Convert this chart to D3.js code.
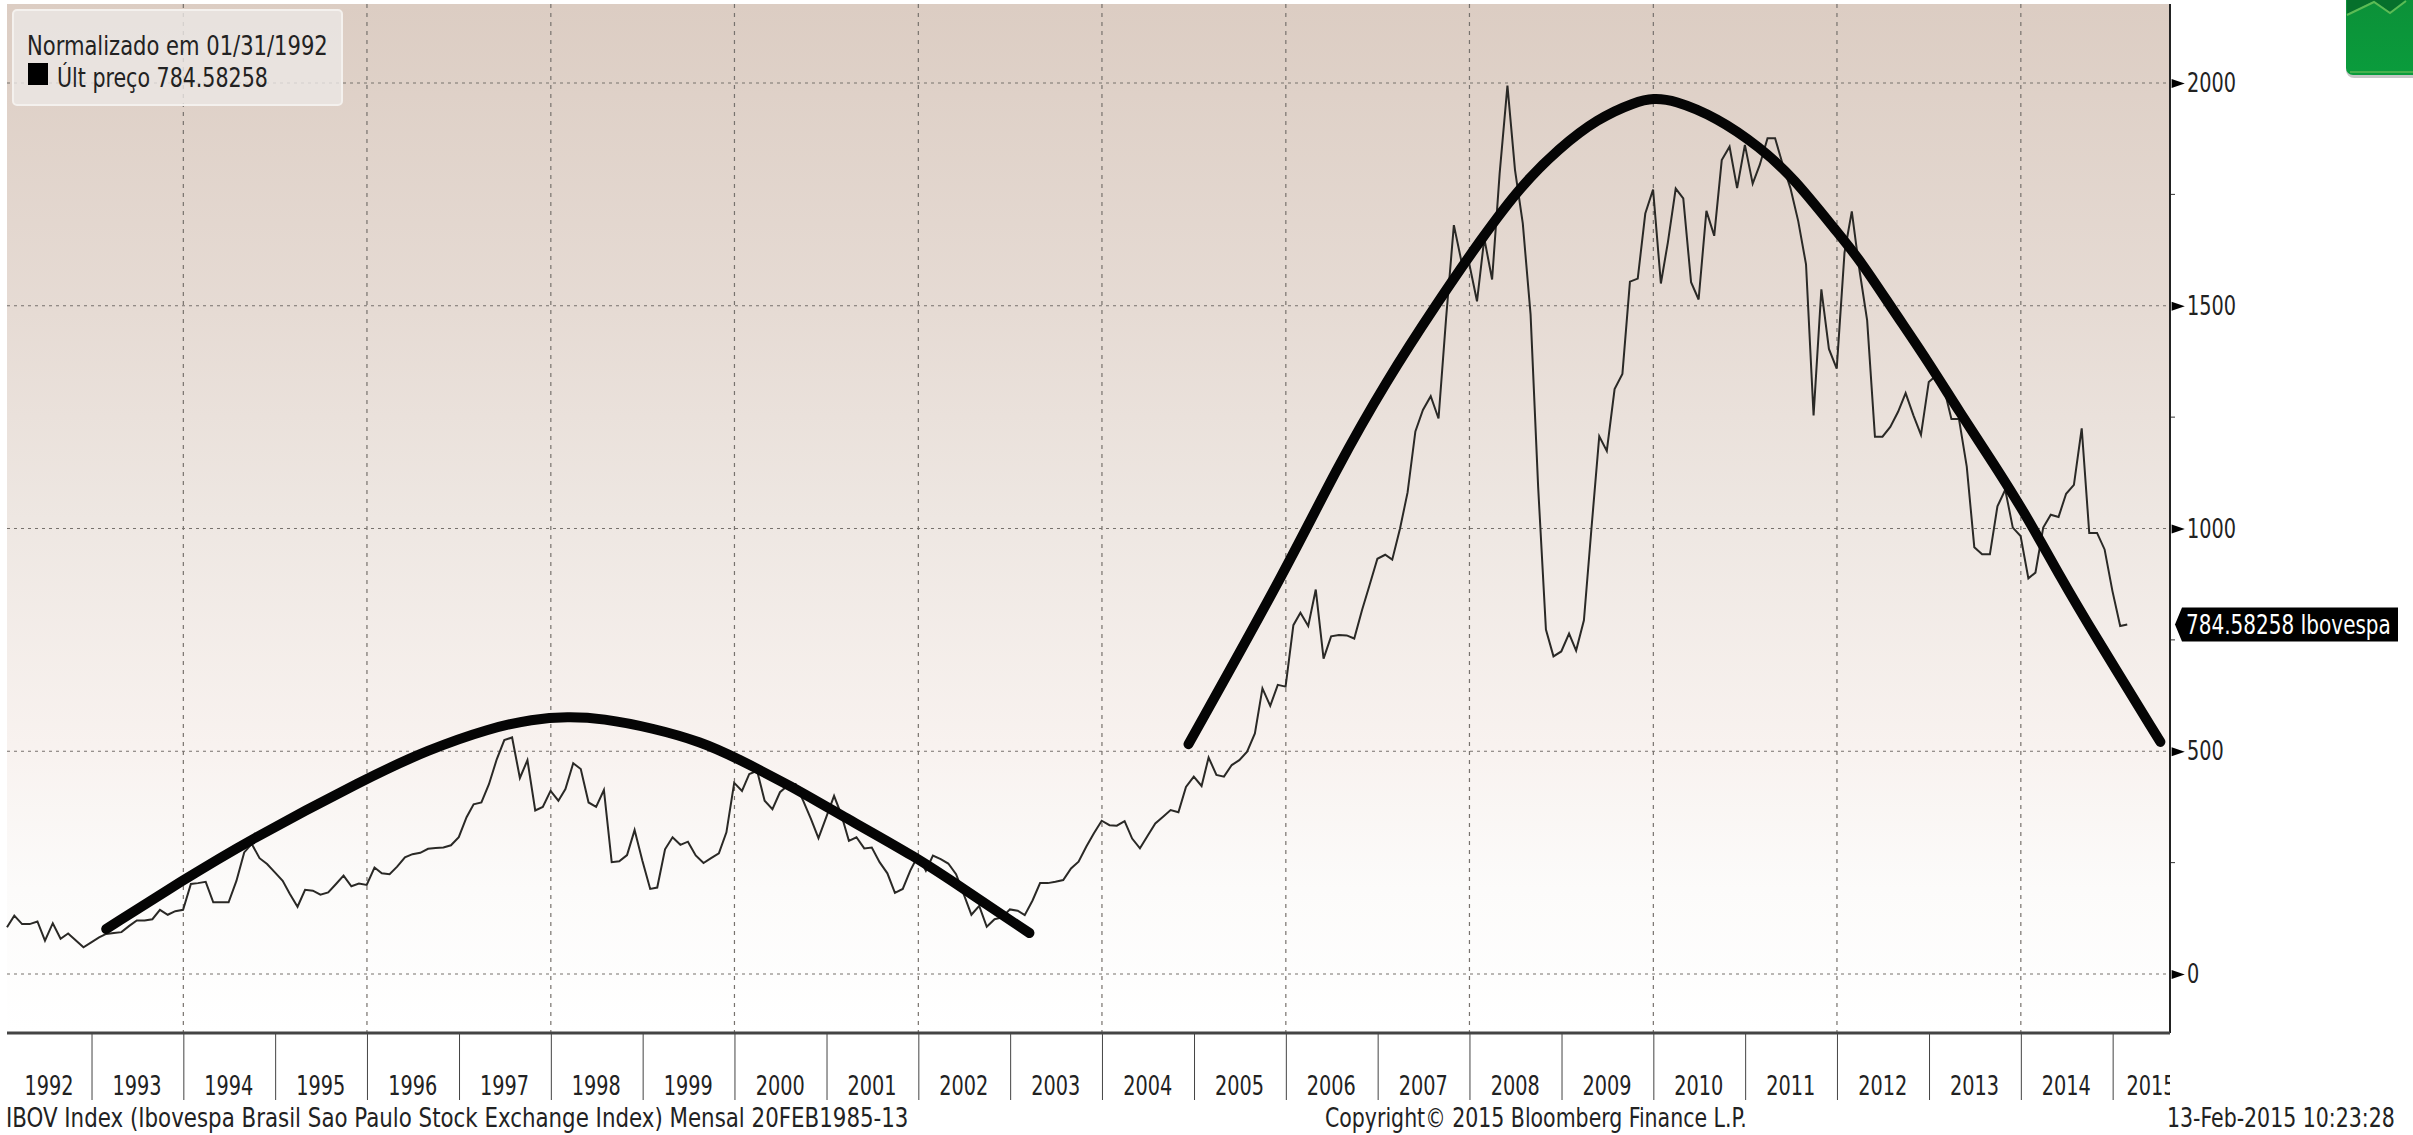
<!DOCTYPE html>
<html>
<head>
<meta charset="utf-8">
<script src="https://cdnjs.cloudflare.com/ajax/libs/d3/7.8.5/d3.min.js"></script>
<style>
html, body { margin: 0; padding: 0; background: #fff; overflow: hidden; }
svg { display: block; }
text { font-family: "Liberation Sans Narrow", "DejaVu Sans Condensed", sans-serif; fill: #222; }
</style>
</head>
<body>
<div id="chart"></div>
<script>
// monthly closes, one row per year, Jan 1992 onwards
var values1992 = [105,131,112,112,118,75,114,79,91,75,60,71];
var values1993 = [82,90,92,94,108,120,120,123,144,133,141,144];
var values1994 = [202,204,207,161,161,161,209,273,292,260,247,228];
var values1995 = [209,180,151,189,187,178,183,202,221,197,203,200];
var values1996 = [239,226,224,241,262,269,272,281,283,284,289,307];
var values1997 = [352,381,385,426,482,525,531,440,480,367,375,411];
var values1998 = [389,415,473,460,385,375,413,251,253,267,323,254];
var values1999 = [191,194,280,307,290,297,266,249,260,271,318,429];
var values2000 = [411,449,456,389,370,408,423,426,389,348,305,352];
var values2001 = [400,359,299,307,282,284,251,226,182,191,232,266];
var values2002 = [232,266,258,248,224,180,133,153,106,123,127,145];
var values2003 = [142,132,165,204,204,207,211,237,252,286,316,344];
var values2004 = [334,333,343,304,282,310,338,353,368,363,420,443];
var values2005 = [422,486,447,443,469,480,499,540,641,602,649,645];
var values2006 = [783,811,781,863,708,758,761,760,753,817,873,932];
var values2007 = [941,930,1000,1081,1218,1266,1297,1247,1471,1681,1600,1595];
var values2008 = [1510,1651,1559,1797,1994,1805,1685,1480,1094,773,713,724];
var values2009 = [764,726,794,1000,1207,1174,1313,1347,1554,1561,1707,1761];
var values2010 = [1550,1643,1763,1741,1553,1514,1713,1657,1827,1857,1764,1861];
var values2011 = [1774,1816,1876,1876,1816,1764,1690,1593,1254,1537,1403,1359];
var values2012 = [1619,1712,1578,1467,1206,1206,1228,1262,1304,1254,1210,1329];
var values2013 = [1344,1318,1246,1246,1139,958,942,942,1050,1087,1002,983];
var values2014 = [888,901,1002,1031,1026,1078,1098,1225,990,990,953,860];
var values2015 = [781,784.58258];

// the two hand drawn arcs
var arcOneYears = [1993.16,1994.00,1994.68,1996.00,1996.66,1997.34,1997.80,1998.18,1998.56,1999.11,1999.64,2000.02,2000.63,2001.09,2002.00,2002.54,2003.21];
var arcOneValues = [101,211,296,440,503,552,572,578,574,552,521,485,420,364,260,184,92];
var arcTwoYears = [2004.94,2006.00,2006.55,2007.10,2007.64,2008.14,2008.56,2008.97,2009.39,2009.81,2010.00,2010.22,2010.69,2011.16,2011.52,2012.01,2012.25,2012.61,2012.98,2013.34,2013.70,2014.07,2014.43,2014.79,2015.52];
var arcTwoValues = [516,907,1134,1333,1504,1654,1769,1853,1920,1958,1966,1962,1923,1856,1789,1663,1603,1490,1378,1259,1147,1026,891,765,521];

var yearLabels = d3.range(1992, 2016);
var gridYears = d3.range(1994, 2016, 2);
var majorTicks = [0, 500, 1000, 1500, 2000];
var minorTicks = [250, 750, 1250, 1750];

var legendTitle = "Normalizado em 01/31/1992";
var legendEntry = "Últ preço 784.58258";
var lastLabel = "784.58258 Ibovespa";
var footerLeft = "IBOV Index (Ibovespa Brasil Sao Paulo Stock Exchange Index)  Mensal 20FEB1985-13";
var footerMid = "Copyright© 2015 Bloomberg Finance L.P.";
var footerRight = "13-Feb-2015 10:23:28";

var allValues = [].concat(values1992, values1993, values1994, values1995, values1996, values1997, values1998,
  values1999, values2000, values2001, values2002, values2003, values2004, values2005, values2006, values2007,
  values2008, values2009, values2010, values2011, values2012, values2013, values2014, values2015);

var series = allValues.map(function(v, i) {
  return {date: new Date(1992, i + 1, 0), value: v};
});

function yearToDate(y) {
  var whole = Math.floor(y);
  var start = new Date(whole, 0, 1);
  var end = new Date(whole + 1, 0, 1);
  return new Date(+start + (y - whole) * (end - start));
}

function arcData(years, vals) {
  return years.map(function(y, i) { return {date: yearToDate(y), value: vals[i]}; });
}

// squeeze a text sideways to a given width, the font is wider than the original
function fitText(sel, px, py, width) {
  var natural = sel.node().getComputedTextLength();
  sel.attr("transform", "translate(" + px + "," + py + ") scale(" + (width / natural) + ",1)");
}

var plotLeft = 7, plotRight = 2170, plotTop = 4, plotBottom = 1033;

var svg = d3.select("#chart").append("svg")
  .attr("width", 2413)
  .attr("height", 1135);

var defs = svg.append("defs");

var bgGradient = defs.append("linearGradient")
  .attr("id", "plot-bg")
  .attr("x1", "0%").attr("y1", "0%")
  .attr("x2", "0%").attr("y2", "100%");
bgGradient.selectAll("stop")
  .data([
    {offset: "0%", color: "#dccdc3"},
    {offset: "30%", color: "#e6dbd4"},
    {offset: "50%", color: "#eee7e2"},
    {offset: "72%", color: "#f8f2ef"},
    {offset: "86%", color: "#fcfbfa"},
    {offset: "100%", color: "#ffffff"}
  ])
  .enter().append("stop")
  .attr("offset", function(d) { return d.offset; })
  .attr("stop-color", function(d) { return d.color; });

var iconGradient = defs.append("linearGradient")
  .attr("id", "icon-bg")
  .attr("x1", "0%").attr("y1", "0%")
  .attr("x2", "0%").attr("y2", "100%");
iconGradient.append("stop").attr("offset", "0%").attr("stop-color", "#0c8f38");
iconGradient.append("stop").attr("offset", "100%").attr("stop-color", "#0a9c3c");

defs.append("clipPath").attr("id", "axis-clip")
  .append("rect")
  .attr("x", 0).attr("y", plotBottom)
  .attr("width", plotRight).attr("height", 80);

var x = d3.scaleTime()
  .domain([new Date(1992, 0, 31), new Date(2015, 7, 17)])
  .range([plotLeft, plotRight]);

var y = d3.scaleLinear()
  .domain([0, 2000])
  .range([974, 83]);

svg.append("rect")
  .attr("x", plotLeft).attr("y", plotTop)
  .attr("width", plotRight - plotLeft).attr("height", plotBottom - plotTop)
  .style("fill", "url(#plot-bg)");

// gridlines
svg.append("g").selectAll("line")
  .data(gridYears)
  .enter().append("line")
  .attr("x1", function(d) { return x(new Date(d, 0, 1)); })
  .attr("x2", function(d) { return x(new Date(d, 0, 1)); })
  .attr("y1", plotTop).attr("y2", plotBottom)
  .style("stroke", "#77726d")
  .style("stroke-width", 1.2)
  .style("stroke-dasharray", "4,5");

svg.append("g").selectAll("line")
  .data(majorTicks)
  .enter().append("line")
  .attr("x1", plotLeft).attr("x2", plotRight)
  .attr("y1", function(d) { return y(d); })
  .attr("y2", function(d) { return y(d); })
  .style("stroke", "#77726d")
  .style("stroke-width", 1.2)
  .style("stroke-dasharray", "3,4");

// price line
var line = d3.line()
  .x(function(d) { return x(d.date); })
  .y(function(d) { return y(d.value); });

svg.append("path")
  .datum(series)
  .attr("d", line)
  .style("fill", "none")
  .style("stroke", "#2a2926")
  .style("stroke-width", 2);

// thick arcs over the top
var arcLine = d3.line()
  .x(function(d) { return x(d.date); })
  .y(function(d) { return y(d.value); })
  .curve(d3.curveBasis);

svg.append("g").selectAll("path")
  .data([arcData(arcOneYears, arcOneValues), arcData(arcTwoYears, arcTwoValues)])
  .enter().append("path")
  .attr("d", arcLine)
  .style("fill", "none")
  .style("stroke", "#050505")
  .style("stroke-width", 10)
  .style("stroke-linecap", "round");

// right axis
var yAxis = d3.axisRight(y)
  .tickValues(majorTicks)
  .tickSize(0)
  .tickPadding(17)
  .tickFormat(d3.format("d"));

var yAxisG = svg.append("g")
  .attr("transform", "translate(" + plotRight + ",0)")
  .call(yAxis);
yAxisG.select(".domain").remove();
yAxisG.selectAll("text")
  .attr("textLength", function(d) { return String(d).length * 12.25; })
  .attr("lengthAdjust", "spacingAndGlyphs")
  .style("font-size", "27px")
  .style("font-family", null);
yAxisG.selectAll(".tick").append("path")
  .attr("d", d3.symbol().type(d3.symbolTriangle).size(70))
  .attr("transform", "translate(6,0) rotate(90) scale(0.7,1.2)")
  .style("fill", "#000");

svg.append("g").selectAll("line")
  .data(minorTicks)
  .enter().append("line")
  .attr("x1", plotRight).attr("x2", plotRight + 5)
  .attr("y1", function(d) { return y(d); })
  .attr("y2", function(d) { return y(d); })
  .style("stroke", "#333");

svg.append("line")
  .attr("x1", plotRight).attr("x2", plotRight)
  .attr("y1", plotTop).attr("y2", plotBottom)
  .style("stroke", "#222")
  .style("stroke-width", 2);

// bottom axis
var xAxis = d3.axisBottom(x)
  .tickValues(d3.range(1993, 2016).map(function(d) { return new Date(d, 0, 1); }))
  .tickSize(67)
  .tickFormat("");

var xAxisG = svg.append("g")
  .attr("transform", "translate(0," + plotBottom + ")")
  .call(xAxis);
xAxisG.select(".domain").remove();
xAxisG.selectAll("line").style("stroke", "#444");

svg.append("line")
  .attr("x1", plotLeft).attr("x2", plotRight)
  .attr("y1", plotBottom).attr("y2", plotBottom)
  .style("stroke", "#444")
  .style("stroke-width", 3);

// 1992 and 2015 are short years at the chart's edges, so they sit off mid-year
function yearLabelX(d) {
  if (d === 1992) return 49;
  if (d === 2015) return 2151;
  return x(new Date(d, 6, 1));
}

svg.append("g")
  .attr("clip-path", "url(#axis-clip)")
  .selectAll("text")
  .data(yearLabels)
  .enter().append("text")
  .attr("x", yearLabelX)
  .attr("y", 1095)
  .attr("text-anchor", "middle")
  .attr("textLength", 49)
  .attr("lengthAdjust", "spacingAndGlyphs")
  .style("font-size", "27px")
  .text(function(d) { return d; });

// legend box
var legend = svg.append("g");
legend.append("rect")
  .attr("x", 13).attr("y", 10)
  .attr("width", 329).attr("height", 95)
  .attr("rx", 4)
  .style("fill", "#ebe7e5")
  .style("fill-opacity", 0.8)
  .style("stroke", "#f4f1ee")
  .style("stroke-width", 2);
legend.append("text")
  .style("font-size", "27px")
  .text(legendTitle)
  .call(fitText, 27, 55, 301);
legend.append("rect")
  .attr("x", 28).attr("y", 63)
  .attr("width", 20).attr("height", 22)
  .style("fill", "#000");
legend.append("text")
  .style("font-size", "27px")
  .text(legendEntry)
  .call(fitText, 57, 87, 211);

// last price flag
var lastY = y(allValues[allValues.length - 1]);
svg.append("path")
  .attr("d", d3.line()([[2175, lastY], [2182, lastY - 17], [2398, lastY - 17], [2398, lastY + 17], [2182, lastY + 17]]) + "Z")
  .style("fill", "#000");
svg.append("text")
  .style("font-size", "27px")
  .style("fill", "#fff")
  .text(lastLabel)
  .call(fitText, 2186, lastY + 10, 205);

// footer
svg.append("text").style("font-size", "26px").text(footerLeft).call(fitText, 6, 1127, 903);
svg.append("text").style("font-size", "26px").text(footerMid).call(fitText, 1325, 1127, 422);
svg.append("text").style("font-size", "26px").text(footerRight).call(fitText, 2167, 1127, 228);

// green icon in the corner
svg.append("rect")
  .attr("x", 2346).attr("y", -12)
  .attr("width", 90).attr("height", 90)
  .attr("rx", 8)
  .style("fill", "#000")
  .style("opacity", 0.22);
svg.append("rect")
  .attr("x", 2346).attr("y", -12)
  .attr("width", 90).attr("height", 87)
  .attr("rx", 7)
  .style("fill", "url(#icon-bg)");
svg.append("path")
  .attr("d", "M2347,14 L2374,1 L2390,12 L2405,0 L2413,0 L2413,-2 L2347,-2 Z")
  .style("fill", "#06702c");
svg.append("path")
  .attr("d", "M2347,15 L2374,2 L2390,13 L2406,1")
  .style("fill", "none")
  .style("stroke", "#5cbb55")
  .style("stroke-width", 2);
svg.append("rect")
  .attr("x", 2350).attr("y", 71)
  .attr("width", 63).attr("height", 2)
  .style("fill", "#46b04e");
</script>
</body>
</html>
